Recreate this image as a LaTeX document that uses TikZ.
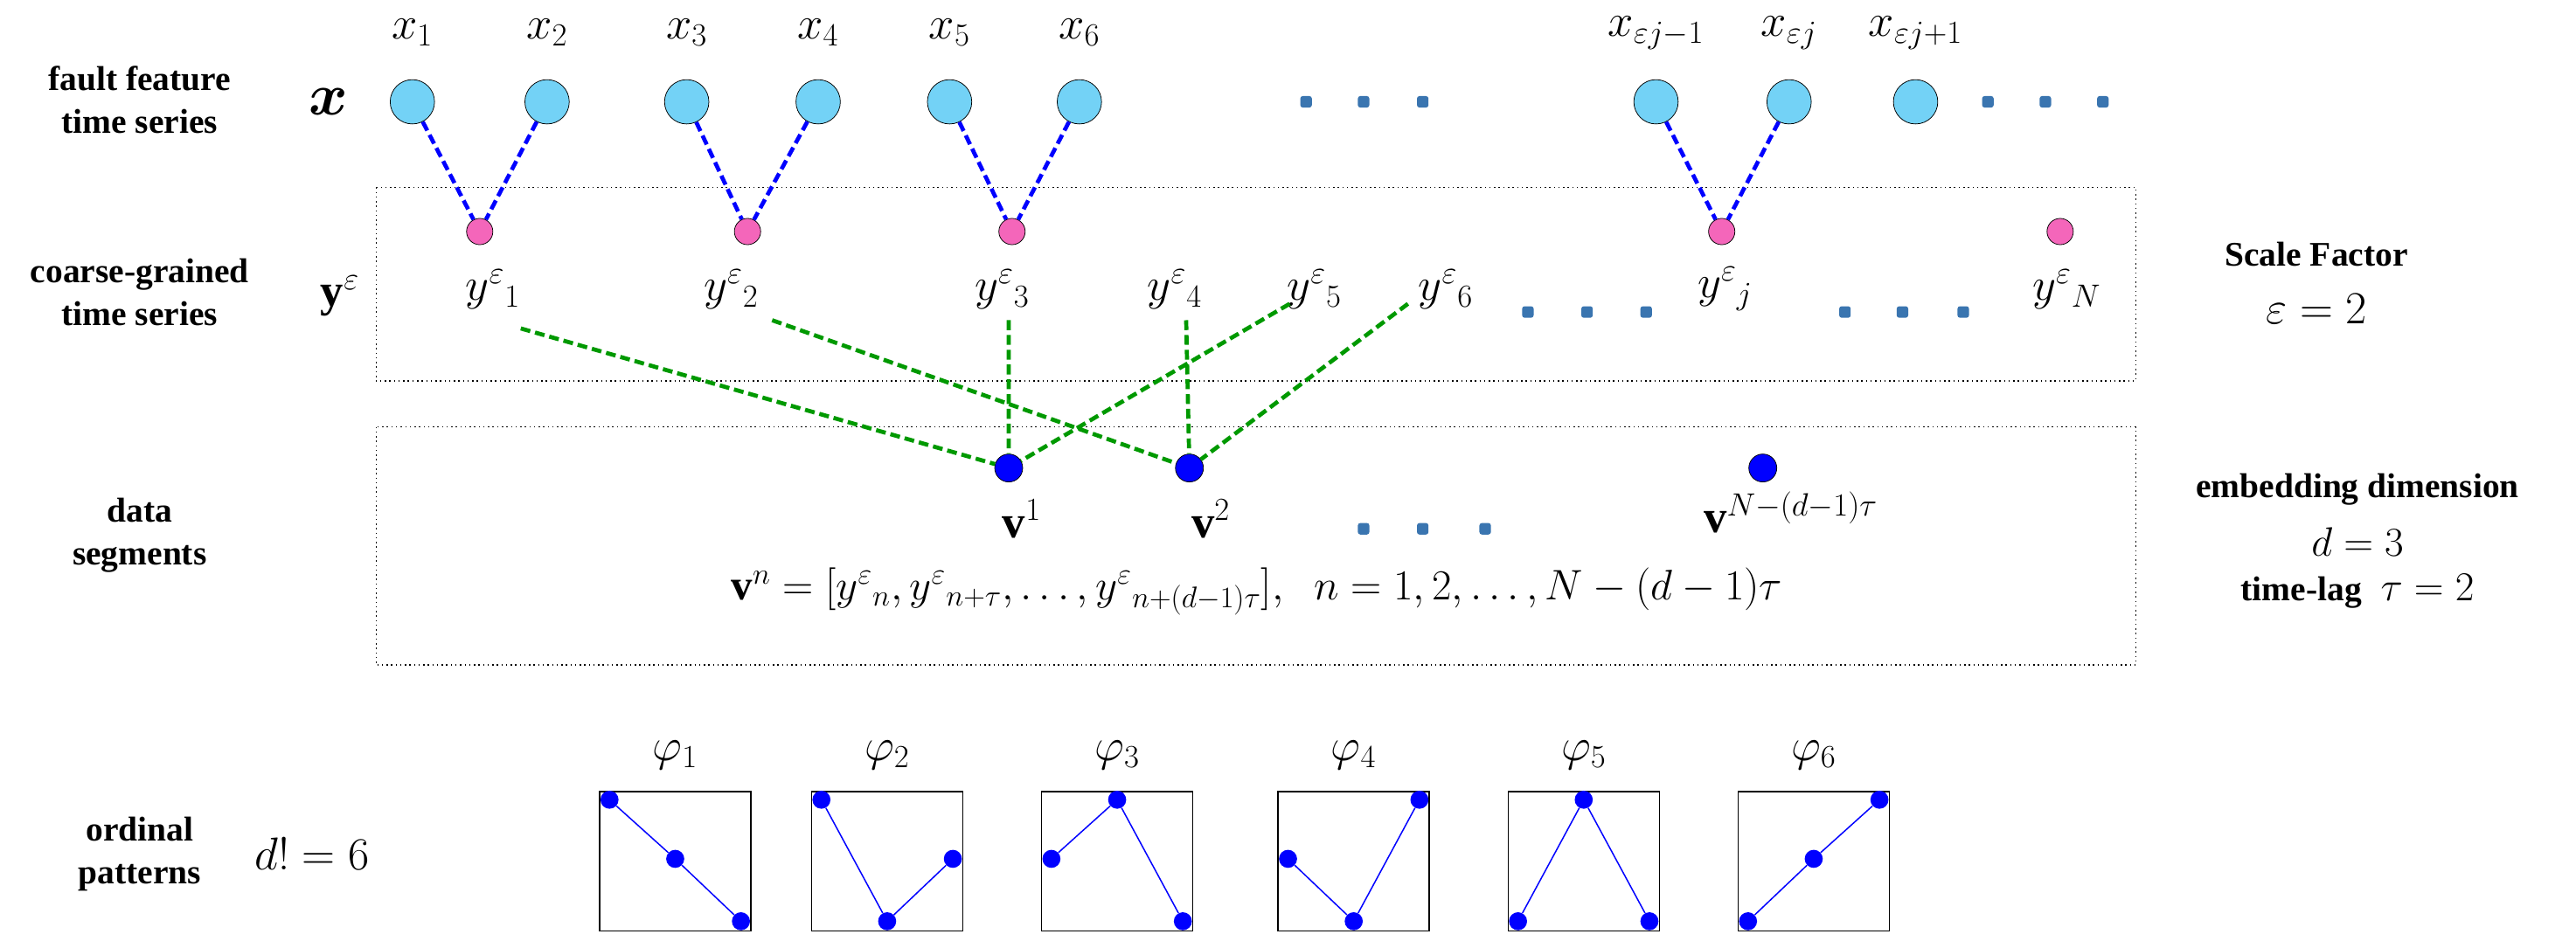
\documentclass[tikz,border=0pt]{standalone}
\usepackage{fix-cm}
\usepackage{amsmath,bm}
\usepackage{fontspec}
\setmainfont{Liberation Serif}
\definecolor{dotc}{HTML}{3A75B0}
\begin{document}
\begin{tikzpicture}[x=1pt,y=-1pt,
 lab/.style={font=\bfseries\fontsize{21}{26}\selectfont,align=center},
 cy/.style={circle,draw,fill=cyan!55,minimum size=27pt,inner sep=0},
 pk/.style={circle,draw,fill=magenta!60,minimum size=16pt,inner sep=0},
 bl/.style={circle,draw,fill=blue,minimum size=17pt,inner sep=0},
 dt/.style={fill=dotc,rounded corners=1.5pt,minimum size=7pt,inner sep=0},
 bd/.style={blue,dash pattern=on 6pt off 3pt,line width=2.5pt},
 gd/.style={green!60!black,dash pattern=on 6pt off 3pt,line width=2.5pt},
 box/.style={draw,dotted,thick},
 bt/.style={font=\fontsize{28}{32}\selectfont},
 pat/.style={blue,thick},
 pd/.style={circle,fill=blue,minimum size=11pt,inner sep=0}]
\useasboundingbox (0,0) rectangle (1568,577);
\node[lab] at (85,61) {fault feature\\time series};
\node[font=\fontsize{36}{40}\selectfont] at (200,62) {$\bm{x}$};
\foreach \n/\x/\l in {a/251/x_1,b/333/x_2,c/418/x_3,d/498/x_4,e/578/x_5,f/657/x_6,g/1008/x_{\varepsilon j-1},h/1089/x_{\varepsilon j},i/1166/x_{\varepsilon j+1}}{
 \node[cy] (c\n) at (\x,62) {};
 \node[bt] at (\x,20) {$\l$};}
\foreach \x in {795,830,866,1210,1245,1280} \node[dt] (d\x) at (\x,62) {};
\draw[box] (229,114) rectangle (1300,232);
\draw[box] (229,260) rectangle (1300,405);
\foreach \n/\x in {1/292,2/455,3/616,j/1048,N/1254} \node[pk] (p\n) at (\x,141) {};
\draw[bd] (ca)--(p1) (cb)--(p1) (cc)--(p2) (cd)--(p2) (ce)--(p3) (cf)--(p3) (cg)--(pj) (ch)--(pj);
\node[lab] at (85,178) {coarse-grained\\time series};
\node[bt] at (207,180) {$\mathbf{y}^{\varepsilon}$};
\foreach \n/\x/\s in {1/300/1,2/445/2,3/610/3,4/715/4,5/800/5,6/880/6,j/1050/j,N/1258/N}
 \node[bt] (y\n) at (\x,176) {$y^{\varepsilon}{}_{\s}$};
\foreach \x in {930,966,1002,1123,1158,1195,830,866,904} \node[dt] at (\x,\ifnum\x<920 322\else 190\fi) {};
\node[bl] (v1) at (614,285) {};
\node[bl] (v2) at (724,285) {};
\node[bl] (vN) at (1073,285) {};
\coordinate (g1) at (317,200); \coordinate (g2) at (470,195);
\coordinate (g3) at (614,195); \coordinate (g4) at (722,195);
\coordinate (g5) at (785,185); \coordinate (g6) at (857,185);
\draw[gd] (g1)--(v1) (g2)--(v2) (g3)--(v1) (g4)--(v2) (g5)--(v1) (g6)--(v2);
\node[bt] at (622,316) {$\mathbf{v}^{1}$};
\node[bt] at (737,316) {$\mathbf{v}^{2}$};
\node[bt] at (1090,312) {$\mathbf{v}^{N-(d-1)\tau}$};
\node[font=\fontsize{26}{30}\selectfont] at (765,360) {$\mathbf{v}^{n}=[y^{\varepsilon}{}_{n},y^{\varepsilon}{}_{n+\tau},\ldots,y^{\varepsilon}{}_{n+(d-1)\tau}],\;\; n=1,2,\ldots,N-(d-1)\tau$};
\node[lab] at (85,326) {data\\segments};
\node[lab] at (1410,155) {Scale Factor};
\node[bt] at (1410,188) {$\varepsilon=2$};
\node[lab] at (1435,298) {embedding dimension};
\node[font=\fontsize{25}{30}\selectfont] at (1435,330) {$d=3$};
\node at (1435,360) {\fontsize{21}{26}\selectfont\bfseries time-lag\;\;\fontsize{25}{30}\selectfont\mdseries$\tau=2$};
\node[lab] at (85,520) {ordinal\\patterns};
\node[bt] at (190,520) {$d!=6$};
\foreach \k/\x/\ya/\yb/\yc in {1/365/487/523/561,2/494/487/561/523,3/634/523/487/561,4/778/523/561/487,5/918/561/487/561,6/1058/561/523/487}{
 \draw[thick] (\x,482) rectangle (\x+92,567);
 \node[bt] at (\x+46,460) {$\varphi_{\k}$};
 \node[pd] (q\k a) at (\x+6,\ya) {};
 \node[pd] (q\k b) at (\x+46,\yb) {};
 \node[pd] (q\k c) at (\x+86,\yc) {};
 \draw[pat] (q\k a)--(q\k b)--(q\k c);}
\end{tikzpicture}
\end{document}
